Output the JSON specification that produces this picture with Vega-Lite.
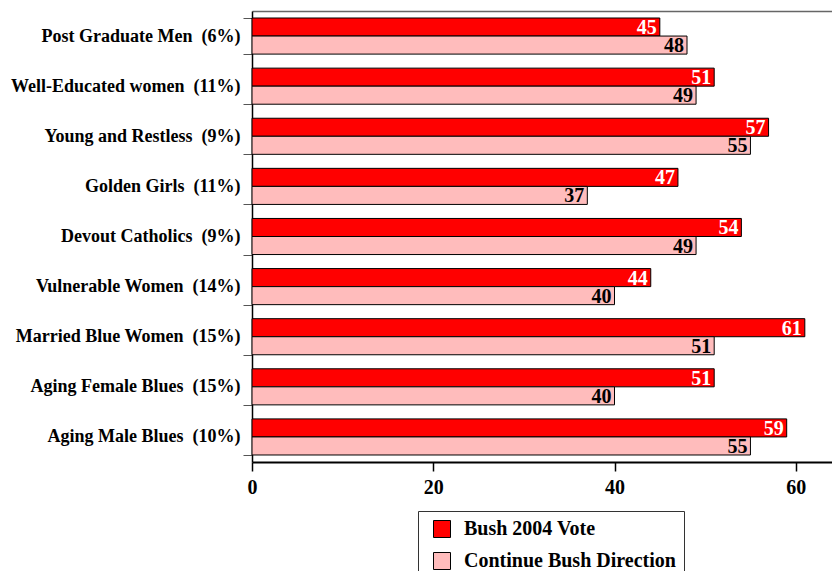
{
  "$schema": "https://vega.github.io/schema/vega-lite/v6.json",
  "width": 580,
  "height": 451,
  "autosize": {"type": "none"},
  "padding": {"left": 252, "top": 11, "right": 0, "bottom": 109},
  "background": "white",
  "config": {
    "font": "Liberation Serif",
    "view": {"stroke": null},
    "axis": {"labelFont": "Liberation Serif", "labelFontWeight": "bold", "labelColor": "black", "domainColor": "black", "tickColor": "black"}
  },
  "data": {
    "values": [
      {"group": "Post Graduate Men\u00a0 (6%)", "series": "Bush 2004 Vote", "pct": 45},
      {"group": "Post Graduate Men\u00a0 (6%)", "series": "Continue Bush Direction", "pct": 48},
      {"group": "Well-Educated women\u00a0 (11%)", "series": "Bush 2004 Vote", "pct": 51},
      {"group": "Well-Educated women\u00a0 (11%)", "series": "Continue Bush Direction", "pct": 49},
      {"group": "Young and Restless\u00a0 (9%)", "series": "Bush 2004 Vote", "pct": 57},
      {"group": "Young and Restless\u00a0 (9%)", "series": "Continue Bush Direction", "pct": 55},
      {"group": "Golden Girls\u00a0 (11%)", "series": "Bush 2004 Vote", "pct": 47},
      {"group": "Golden Girls\u00a0 (11%)", "series": "Continue Bush Direction", "pct": 37},
      {"group": "Devout Catholics\u00a0 (9%)", "series": "Bush 2004 Vote", "pct": 54},
      {"group": "Devout Catholics\u00a0 (9%)", "series": "Continue Bush Direction", "pct": 49},
      {"group": "Vulnerable Women\u00a0 (14%)", "series": "Bush 2004 Vote", "pct": 44},
      {"group": "Vulnerable Women\u00a0 (14%)", "series": "Continue Bush Direction", "pct": 40},
      {"group": "Married Blue Women\u00a0 (15%)", "series": "Bush 2004 Vote", "pct": 61},
      {"group": "Married Blue Women\u00a0 (15%)", "series": "Continue Bush Direction", "pct": 51},
      {"group": "Aging Female Blues\u00a0 (15%)", "series": "Bush 2004 Vote", "pct": 51},
      {"group": "Aging Female Blues\u00a0 (15%)", "series": "Continue Bush Direction", "pct": 40},
      {"group": "Aging Male Blues\u00a0 (10%)", "series": "Bush 2004 Vote", "pct": 59},
      {"group": "Aging Male Blues\u00a0 (10%)", "series": "Continue Bush Direction", "pct": 55}
    ]
  },
  "encoding": {
    "y": {
      "field": "group", "type": "nominal", "sort": null, "title": null,
      "scale": {"paddingInner": 0.28, "paddingOuter": 0.14},
      "axis": {"tickBand": "extent", "tickSize": 9, "labelFontSize": 18, "labelPadding": 3, "labelLimit": 260, "domainWidth": 1.5, "tickColor": "#555"}
    },
    "yOffset": {"field": "series", "type": "nominal", "sort": null},
    "x": {"field": "pct", "type": "quantitative", "scale": {"domain": [0, 64], "nice": false}}
  },
  "layer": [
    {
      "mark": {"type": "bar", "stroke": "black", "strokeWidth": 1},
      "encoding": {
        "x": {
          "field": "pct", "type": "quantitative", "title": null,
          "axis": {"values": [0, 20, 40, 60], "grid": false, "labelFlush": false, "tickSize": 9, "tickWidth": 1.5, "domainWidth": 2, "labelFontSize": 20, "labelPadding": 6}
        },
        "fill": {
          "field": "series", "type": "nominal", "title": null,
          "scale": {"domain": ["Bush 2004 Vote", "Continue Bush Direction"], "range": ["#FF0000", "#FFBCBC"]},
          "legend": {
            "orient": "none", "legendX": 166, "legendY": 500,
            "strokeColor": "#333", "fillColor": "white", "padding": 8,
            "symbolType": "square", "symbolSize": 289, "symbolStrokeColor": "black", "symbolStrokeWidth": 1,
            "symbolOffset": 6, "symbolFillColor": null,
            "labelFont": "Liberation Serif", "labelFontWeight": "bold", "labelFontSize": 20, "labelColor": "black",
            "labelOffset": 12, "rowPadding": 10, "labelLimit": 400
          }
        }
      }
    },
    {
      "mark": {"type": "text", "align": "right", "baseline": "middle", "dx": -3, "dy": 1, "font": "Liberation Serif", "fontWeight": "bold", "fontSize": 20},
      "encoding": {
        "x": {
          "field": "pct", "type": "quantitative",
          "axis": {"orient": "top", "labels": false, "ticks": false, "grid": false, "title": null, "domainColor": "#666", "domainWidth": 1.5}
        },
        "text": {"field": "pct", "type": "quantitative"},
        "color": {
          "field": "series", "type": "nominal", "legend": null,
          "scale": {"domain": ["Bush 2004 Vote", "Continue Bush Direction"], "range": ["white", "black"]}
        }
      }
    }
  ],
  "resolve": {"axis": {"x": "independent"}, "scale": {"color": "independent"}}
}
